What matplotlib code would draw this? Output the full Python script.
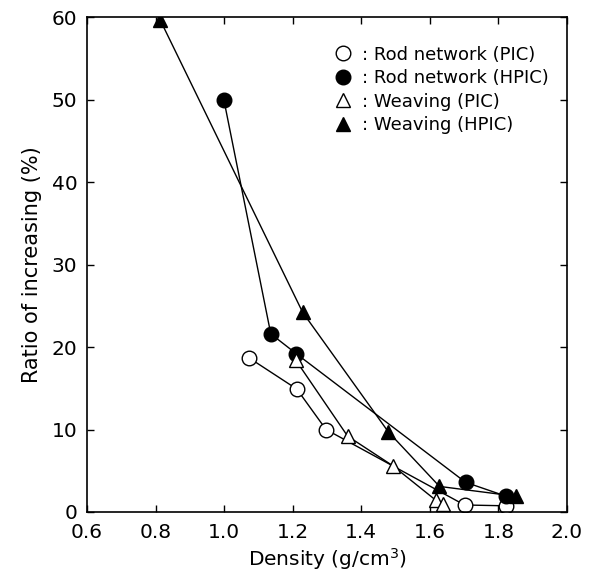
import matplotlib
matplotlib.use("Agg")
import matplotlib.pyplot as plt

# density (g/cm3) vs ratio of increasing (%)
rod_pic_x = [1.072, 1.212, 1.297, 1.701, 1.821]
rod_pic_y = [18.7, 14.9, 10.0, 0.85, 0.75]

rod_hpic_x = [0.999, 1.136, 1.210, 1.704, 1.823]
rod_hpic_y = [50.0, 21.6, 19.2, 3.6, 1.9]

weave_pic_x = [1.209, 1.360, 1.492, 1.618, 1.638]
weave_pic_y = [18.4, 9.2, 5.6, 1.4, 1.0]

weave_hpic_x = [0.814, 1.229, 1.479, 1.628, 1.852]
weave_hpic_y = [59.6, 24.2, 9.7, 3.1, 1.9]

labels = [': Rod network (PIC)', ': Rod network (HPIC)',
          ': Weaving (PIC)', ': Weaving (HPIC)']

fig = plt.figure(figsize=(6.1, 5.85), dpi=100)
ax = fig.add_axes([0.1426, 0.1248, 0.787, 0.846])

ax.plot(rod_pic_x, rod_pic_y, '-o', color='black', mfc='white', mec='black',
        ms=10.5, lw=1.0, label=labels[0])
ax.plot(rod_hpic_x, rod_hpic_y, '-o', color='black', mfc='black',
        ms=10.5, lw=1.0, label=labels[1])
ax.plot(weave_pic_x, weave_pic_y, '-^', color='black', mfc='white', mec='black',
        ms=9.5, lw=1.0, label=labels[2])
ax.plot(weave_hpic_x, weave_hpic_y, '-^', color='black', mfc='black',
        ms=9.5, lw=1.0, label=labels[3])

ax.set_xlim(0.6, 2.0)
ax.set_ylim(0, 60)
ax.set_xticks([0.6, 0.8, 1.0, 1.2, 1.4, 1.6, 1.8, 2.0])
ax.set_xticklabels(['0.6', '0.8', '1.0', '1.2', '1.4', '1.6', '1.8', '2.0'])
ax.set_yticks([0, 10, 20, 30, 40, 50, 60])
ax.tick_params(direction='in', top=True, right=True, length=5, width=1.0,
               labelsize=14.5)
ax.tick_params(axis='x', pad=8)
ax.tick_params(axis='y', pad=7)
for sp in ax.spines.values():
    sp.set_linewidth(1.2)

ax.set_xlabel('Density (g/cm$^3$)', fontsize=14.5, labelpad=3)
ax.set_ylabel('Ratio of increasing (%)', fontsize=15, labelpad=7)

leg = ax.legend(loc='upper right', bbox_to_anchor=(0.995, 0.975), frameon=False,
                fontsize=13, handlelength=0.7, handletextpad=0.7,
                labelspacing=0.3, numpoints=1)
for h in leg.legend_handles:
    h.set_linestyle('none')

fig.savefig('out.png', dpi=100)
